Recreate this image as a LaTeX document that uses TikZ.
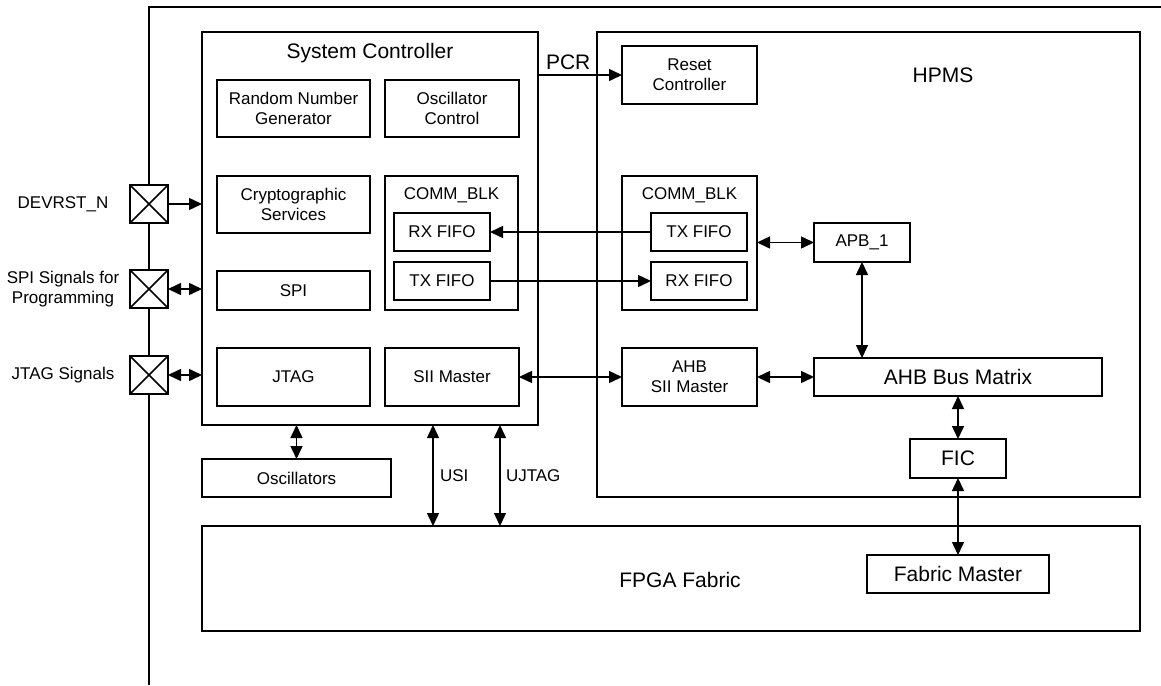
\documentclass[tikz,border=0pt]{standalone}
\usepackage{fontspec}
\setmainfont{Liberation Sans}
\usetikzlibrary{arrows.meta,positioning}

\begin{document}
\begin{tikzpicture}[x=0.5pt,y=-0.5pt,inner sep=0pt,outer sep=0pt,line width=0.75pt,
>={Triangle[length=6.5pt,width=6pt]},
font=\fontsize{8.5}{10}\selectfont,
blk/.style={draw,rectangle,align=center},
bigtxt/.style={font=\fontsize{10.5}{12.5}\selectfont},
iopad/.style={draw,fill=white,rectangle,minimum width=19pt,minimum height=19pt,
  path picture={\draw (path picture bounding box.south west) -- (path picture bounding box.north east)
    (path picture bounding box.north west) -- (path picture bounding box.south east);}}]
\useasboundingbox (0,0) rectangle (1161,685);
% device outline
\draw (149,685) -- (149,7) -- (1161,7);

% system controller
\draw (370,228.5) node[blk,minimum width=168pt,minimum height=196.5pt] (sc) {};
\draw (370,53) node[bigtxt] (sctitle) {System Controller};
\draw (293.5,108.5) node[blk,minimum width=76.5pt,minimum height=28.5pt] (rng) {Random Number\\Generator};
\draw (452,108.5) node[blk,minimum width=67pt,minimum height=28.5pt] (oscctl) {Oscillator\\Control};
\draw (293.5,204.5) node[blk,minimum width=76.5pt,minimum height=28.5pt] (crypto) {Cryptographic\\Services};
\draw (451.5,243) node[blk,minimum width=66.5pt,minimum height=67pt] (commsc) {};
\draw (451.5,195) node (commsctitle) {COMM\_BLK};
\draw (442,232) node[blk,minimum width=48pt,minimum height=19pt] (rxsc) {RX FIFO};
\draw (442,281) node[blk,minimum width=48pt,minimum height=19pt] (txsc) {TX FIFO};
\draw (293.5,290.5) node[blk,minimum width=76.5pt,minimum height=19.5pt] (spi) {SPI};
\draw (293.5,377) node[blk,minimum width=76.5pt,minimum height=29pt] (jtag) {JTAG};
\draw (452,377) node[blk,minimum width=67pt,minimum height=29pt] (sii) {SII Master};
\draw (296.5,478) node[blk,minimum width=94.5pt,minimum height=19pt] (osc) {Oscillators};

% HPMS
\draw (868.5,264.5) node[blk,minimum width=271.5pt,minimum height=232.5pt] (hpms) {};
\draw (943,75) node[bigtxt] (hpmstitle) {HPMS};
\draw (689.5,75) node[blk,minimum width=67.5pt,minimum height=29pt] (rst) {Reset\\Controller};
\draw (689.5,243) node[blk,minimum width=67.5pt,minimum height=67pt] (commhp) {};
\draw (689.5,195) node (commhptitle) {COMM\_BLK};
\draw (699,232) node[blk,minimum width=48pt,minimum height=19pt] (txhp) {TX FIFO};
\draw (699,281) node[blk,minimum width=48pt,minimum height=19pt] (rxhp) {RX FIFO};
\draw (689.5,377) node[blk,minimum width=67.5pt,minimum height=29pt] (ahbsii) {AHB\\SII Master};
\draw (862,242.5) node[blk,minimum width=48pt,minimum height=19.5pt] (apb) {APB\_1};
\draw (958,377) node[blk,bigtxt,minimum width=144pt,minimum height=19pt] (ahb) {AHB Bus Matrix};
\draw (958,458.5) node[blk,bigtxt,minimum width=48pt,minimum height=19.5pt] (fic) {FIC};

% fabric
\draw (671,578.5) node[blk,minimum width=469pt,minimum height=52.5pt] (fabric) {};
\draw (680,580) node[bigtxt] (fabrictitle) {FPGA Fabric};
\draw (958,574) node[blk,bigtxt,minimum width=91pt,minimum height=19pt] (fm) {Fabric Master};

% pads
\draw (149,204) node[iopad] (devrst) {};
\draw (149,289) node[iopad] (spipad) {};
\draw (149,375) node[iopad] (jtagpad) {};
\draw (63,204) node[align=center] (devrstlbl) {DEVRST\_N};
\draw (63,289) node[align=center] (spilbl) {SPI Signals for\\Programming};
\draw (63,375) node[align=center] (jtaglbl) {JTAG Signals};
\draw[->] (devrst.east) -- (devrst.east -| sc.west);
\draw[<->] (spipad.east) -- (spipad.east -| sc.west);
\draw[<->] (jtagpad.east) -- (jtagpad.east -| sc.west);

% links
\coordinate (usi) at (433,0);
\coordinate (ujtag) at (500,0);
\draw[->] (rst.west -| sc.east) -- (rst.west) node[pos=0,above right=2.5pt and 4pt,bigtxt] {PCR};
\draw[->] (txhp.west) -- (rxsc.east);
\draw[->] (txsc.east) -- (rxhp.west);
\draw[<->] (sii.east) -- (ahbsii.west);
\draw[<->] (ahbsii.east) -- (ahb.west);
\draw[<->] (commhp.east |- apb.west) -- (apb.west);
\draw[<->] (apb.south) -- (apb.south |- ahb.north);
\draw[<->] (ahb.south) -- (fic.north);
\draw[<->] (fic.south) -- (fm.north);
\draw[<->] (osc.north |- sc.south) -- (osc.north);
\draw[<->] (sc.south -| usi) -- (fabric.north -| usi) node[midway,right=3.5pt] {USI};
\draw[<->] (sc.south -| ujtag) -- (fabric.north -| ujtag) node[midway,right=3pt] {UJTAG};
\end{tikzpicture}
\end{document}
